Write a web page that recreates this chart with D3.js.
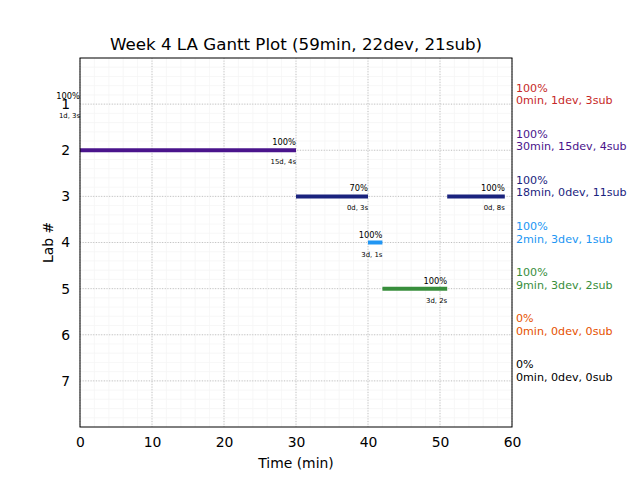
<!DOCTYPE html>
<html><head><meta charset="utf-8">
<script src="https://cdn.jsdelivr.net/npm/d3@7"></script>
<style>body{margin:0;background:#fff}svg{display:block;font-family:"DejaVu Sans",sans-serif}</style>
</head><body><svg id="c" width="640" height="480"></svg>
<script>
const labs = [1,2,3,4,5,6,7];
const labColors = ["#c62828","#4a148c","#1a237e","#2196f3","#388e3c","#e65100","#000000"];
const labPct = ["100%","100%","100%","100%","100%","0%","0%"];
const labMin = [0,30,18,2,9,0,0];
const labDev = [1,15,0,3,3,0,0];
const labSub = [3,4,11,1,2,0,0];
const segLab = [1,2,3,3,4,5];
const segStart = [0,0,30,51,40,42];
const segEnd = [0,30,40,59,42,51];
const segPct = ["100%","100%","70%","100%","100%","100%"];
const segStats = ["1d, 3s","15d, 4s","0d, 3s","0d, 8s","3d, 1s","3d, 2s"];
const xTicks = [0,10,20,30,40,50,60];
const title = "Week 4 LA Gantt Plot (59min, 22dev, 21sub)";

const svg = d3.select("#c");
const L=80,R=512,T=58,B=427;
const x = d3.scaleLinear().domain([0,60]).range([L,R]);
const y = d3.scaleLinear().domain([0,8]).range([T,B]);
const g = svg.append("g");
// minor grid
g.selectAll(".mx").data(d3.range(0,61,2)).enter().append("line")
 .attr("x1",d=>x(d)).attr("x2",d=>x(d)).attr("y1",T).attr("y2",B)
 .attr("stroke","#f5f5f5").attr("stroke-width",0.8);
g.selectAll(".my").data(d3.range(0,40).map(i=>i*0.2)).enter().append("line")
 .attr("y1",d=>y(d)).attr("y2",d=>y(d)).attr("x1",L).attr("x2",R)
 .attr("stroke","#f5f5f5").attr("stroke-width",0.8);
// major grid
g.selectAll(".gx").data(xTicks).enter().append("line")
 .attr("x1",d=>x(d)).attr("x2",d=>x(d)).attr("y1",T).attr("y2",B)
 .attr("stroke","#b0b0b0").attr("stroke-width",0.8).attr("stroke-dasharray","1,1.65");
g.selectAll(".gy").data(labs).enter().append("line")
 .attr("y1",d=>y(d)).attr("y2",d=>y(d)).attr("x1",L).attr("x2",R)
 .attr("stroke","#b0b0b0").attr("stroke-width",0.8).attr("stroke-dasharray","1,1.65");
// bars
segLab.forEach((lab,i)=>{
  const c = labColors[lab-1];
  if (segEnd[i]>segStart[i]) {
    g.append("line").attr("x1",x(segStart[i])).attr("x2",x(segEnd[i]))
     .attr("y1",y(lab)).attr("y2",y(lab)).attr("stroke",c).attr("stroke-width",4);
  }
  g.append("text").attr("x",x(segEnd[i])).attr("y",y(lab)-5).attr("text-anchor","end")
   .attr("font-size","8.3px").attr("fill","#000").text(segPct[i]);
  g.append("text").attr("x",x(segEnd[i])).attr("y",y(lab)+14).attr("text-anchor","end")
   .attr("font-size","6.9px").attr("fill","#000").text(segStats[i]);
});
// axes
svg.append("rect").attr("x",L).attr("y",T).attr("width",R-L).attr("height",B-T)
 .attr("fill","none").attr("stroke","#000").attr("stroke-width",1);
const xa = svg.append("g").attr("transform",`translate(0,${B})`)
 .call(d3.axisBottom(x).tickValues(xTicks).tickSize(0).tickPadding(10).tickFormat(d3.format("d")));
xa.select(".domain").remove();
xa.selectAll("text").attr("font-size","13.9px").attr("font-family","DejaVu Sans").attr("fill","#000");
const ya = svg.append("g").attr("transform",`translate(${L},0)`)
 .call(d3.axisLeft(y).tickValues(labs).tickSize(0).tickPadding(10).tickFormat(d3.format("d")));
ya.select(".domain").remove();
ya.selectAll("text").attr("font-size","13.9px").attr("font-family","DejaVu Sans").attr("fill","#000");
// right labels
labs.forEach((lab,i)=>{
  const t = svg.append("text").attr("x",516).attr("font-size","11.1px").attr("fill",labColors[i]);
  t.append("tspan").attr("x",516).attr("y",y(lab)-12.5).text(labPct[i]);
  t.append("tspan").attr("x",516).attr("y",y(lab)).text(`${labMin[i]}min, ${labDev[i]}dev, ${labSub[i]}sub`);
});
svg.append("text").attr("x",(L+R)/2).attr("y",50).attr("text-anchor","middle")
 .attr("font-size","16.7px").attr("fill","#000").text(title);
svg.append("text").attr("x",(L+R)/2).attr("y",468).attr("text-anchor","middle")
 .attr("font-size","13.9px").attr("fill","#000").text("Time (min)");
svg.append("text").attr("transform",`translate(53,${(T+B)/2}) rotate(-90)`).attr("text-anchor","middle")
 .attr("font-size","13.9px").attr("fill","#000").text("Lab #");
</script></body></html>
